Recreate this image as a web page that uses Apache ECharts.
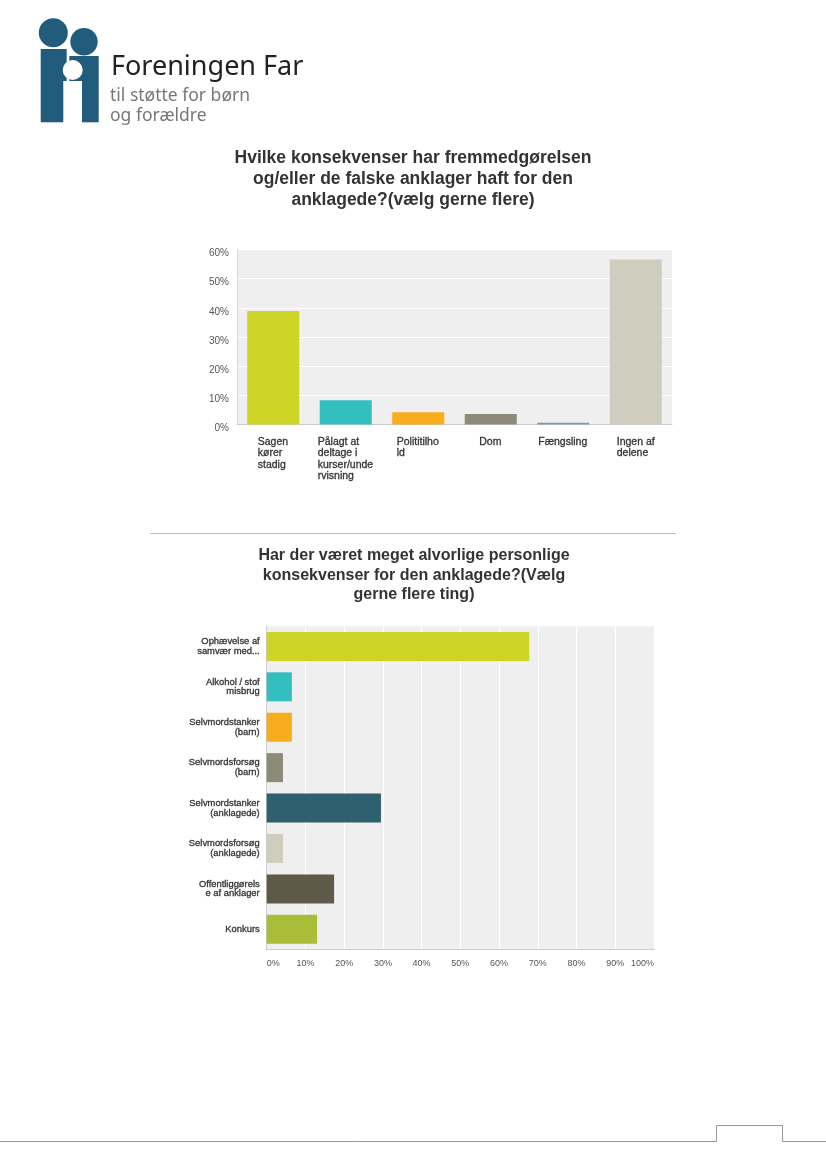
<!DOCTYPE html>
<html>
<head>
<meta charset="utf-8">
<title>Foreningen Far</title>
<script src="https://cdn.jsdelivr.net/npm/echarts@6/dist/echarts.min.js"></script>
<style>
  html, body { margin: 0; padding: 0; background: #fff; }
  #main { width: 826px; height: 1170px; }
</style>
</head>
<body>
<div id="main"></div>
<script>
// data
const consequenceCategories = ['Sagen\nkører\nstadig', 'Pålagt at\ndeltage i\nkurser/unde\nrvisning', 'Polititilho\nld', 'Dom', 'Fængsling', 'Ingen af\ndelene']
const consequenceValues = [38.9, 8.3, 4.2, 3.6, 0.6, 56.6]
const consequenceColors = ['#cfd527', '#33bec0', '#f8ae1c', '#8b8b78', '#7e9aa8', '#cfcdbe']

const personalCategories = ['Ophævelse af\nsamvær med...', 'Alkohol / stof\nmisbrug', 'Selvmordstanker\n(barn)', 'Selvmordsforsøg\n(barn)', 'Selvmordstanker\n(anklagede)', 'Selvmordsforsøg\n(anklagede)', 'Offentliggørels\ne af anklager', 'Konkurs']
const personalValues = [67.8, 6.5, 6.5, 4.2, 29.5, 4.2, 17.4, 13]
const personalColors = ['#cfd527', '#33bec0', '#f8ae1c', '#8b8b78', '#2f6070', '#cfcdbe', '#5e5a4a', '#a9bd38']

const titleOne = 'Hvilke konsekvenser har fremmedgørelsen\nog/eller de falske anklager haft for den\nanklagede?(vælg gerne flere)'
const titleTwo = 'Har der været meget alvorlige personlige\nkonsekvenser for den anklagede?(Vælg\ngerne flere ting)'

const FONT = '"Liberation Sans", Arial, sans-serif'
const LOGO_BLUE = '#215c7c'

// longest line of a label, the x axis block is centred on it but its lines start left
const ctx = document.createElement('canvas').getContext('2d')
function blockWidth (text) {
  ctx.font = '10.5px ' + FONT
  return Math.ceil(Math.max(...text.split('\n').map(l => ctx.measureText(l).width)))
}
const richLines = {}
consequenceCategories.forEach((c, i) => {
  richLines['c' + i] = {
    width: blockWidth(c),
    align: 'left',
    fontSize: 10.5,
    lineHeight: 11.4,
    color: '#333',
    fontFamily: FONT,
    textBorderColor: '#333',
    textBorderWidth: 0.3
  }
})

function logo () {
  const rect = (x, y, w, h) => ({ type: 'rect', shape: { x, y, width: w, height: h }, style: { fill: LOGO_BLUE } })
  const circle = (cx, cy, r, fill) => ({ type: 'circle', shape: { cx, cy, r }, style: { fill } })
  const text = (x, y, t, size, fill) => ({
    type: 'text', x, y, style: { text: t, fontFamily: '"Noto Sans", sans-serif', fontSize: size, fill, verticalAlign: 'middle' }
  })
  return [
    circle(53.3, 32.7, 14.5, LOGO_BLUE),
    circle(84, 41.7, 13.7, LOGO_BLUE),
    rect(40.7, 49, 26, 32),
    rect(40.7, 81, 22.6, 41.3),
    rect(69.3, 56, 29.4, 25),
    rect(82, 81, 16.7, 41.3),
    circle(72.7, 70, 10, '#fff'),
    text(111, 67, 'Foreningen Far', 27, '#222'),
    text(110, 96, 'til støtte for børn', 17.5, '#777'),
    text(110, 116, 'og forældre', 17.5, '#777')
  ]
}

function pageLines () {
  const line = (pts, stroke) => ({ type: 'polyline', shape: { points: pts }, style: { stroke, fill: null, lineWidth: 1 } })
  return [
    line([[150, 533.5], [676, 533.5]], '#bbb'),
    line([[0, 1141.5], [716.5, 1141.5], [716.5, 1125.5], [782.5, 1125.5], [782.5, 1141.5], [826, 1141.5]], '#999')
  ]
}

const chart = echarts.init(document.getElementById('main'), null, { renderer: 'canvas' })

const titleStyle = { fontFamily: FONT, fontWeight: 'bold', color: '#333', align: 'center' }

chart.setOption({
  animation: false,
  backgroundColor: '#fff',
  title: [
    { text: titleOne, left: 413, top: 147.5, textAlign: 'center', padding: 0, textStyle: { ...titleStyle, fontSize: 17.5, lineHeight: 21 } },
    { text: titleTwo, left: 414, top: 546, textAlign: 'center', padding: 0, textStyle: { ...titleStyle, fontSize: 16, lineHeight: 19.5 } }
  ],
  graphic: { elements: [...logo(), ...pageLines()] },
  grid: [
    { left: 237, top: 249.5, width: 435, height: 175, show: true, backgroundColor: '#efefef', borderWidth: 0 },
    { left: 266.7, top: 626.2, width: 387.3, height: 323.3, show: true, backgroundColor: '#efefef', borderWidth: 0 }
  ],
  xAxis: [
    {
      type: 'category',
      gridIndex: 0,
      data: consequenceCategories,
      axisTick: { show: false },
      axisLine: { lineStyle: { color: '#ccc' } },
      axisLabel: {
        interval: 0,
        margin: 12,
        formatter: (value, i) => value.split('\n').map(l => '{c' + i + '|' + l + '}').join('\n'),
        rich: richLines
      }
    },
    {
      type: 'value',
      gridIndex: 1,
      min: 0,
      max: 100,
      interval: 10,
      axisTick: { show: false },
      axisLine: { show: true, lineStyle: { color: '#ccc' } },
      splitLine: { show: true, lineStyle: { color: '#fff', width: 1 } },
      axisLabel: {
        margin: 10,
        fontFamily: FONT,
        fontSize: 9,
        color: '#555',
        formatter: '{value}%',
        alignMinLabel: 'left',
        alignMaxLabel: 'right'
      }
    }
  ],
  yAxis: [
    {
      type: 'value',
      gridIndex: 0,
      min: 0,
      max: 60,
      interval: 10,
      axisTick: { show: false },
      axisLine: { show: true, lineStyle: { color: '#ddd' } },
      splitLine: { show: true, lineStyle: { color: '#fff', width: 1 } },
      axisLabel: {
        margin: 8,
        fontFamily: FONT,
        fontSize: 10,
        color: '#555',
        formatter: '{value}%',
        // reference prints these a little under their gridline
        verticalAlign: 'top',
        lineHeight: 8
      }
    },
    {
      type: 'category',
      gridIndex: 1,
      inverse: true,
      data: personalCategories,
      axisTick: { show: false },
      axisLine: { show: true, lineStyle: { color: '#ccc' } },
      axisLabel: {
        interval: 0,
        margin: 7,
        fontFamily: FONT,
        fontSize: 9.4,
        lineHeight: 9.8,
        color: '#333',
        align: 'right',
        textBorderColor: '#333',
        textBorderWidth: 0.3
      }
    }
  ],
  series: [
    {
      type: 'bar',
      xAxisIndex: 0,
      yAxisIndex: 0,
      barWidth: 52,
      data: consequenceValues.map((v, i) => ({ value: v, itemStyle: { color: consequenceColors[i] } }))
    },
    {
      type: 'bar',
      xAxisIndex: 1,
      yAxisIndex: 1,
      barWidth: 29,
      data: personalValues.map((v, i) => ({ value: v, itemStyle: { color: personalColors[i] } }))
    }
  ]
})
</script>
</body>
</html>
